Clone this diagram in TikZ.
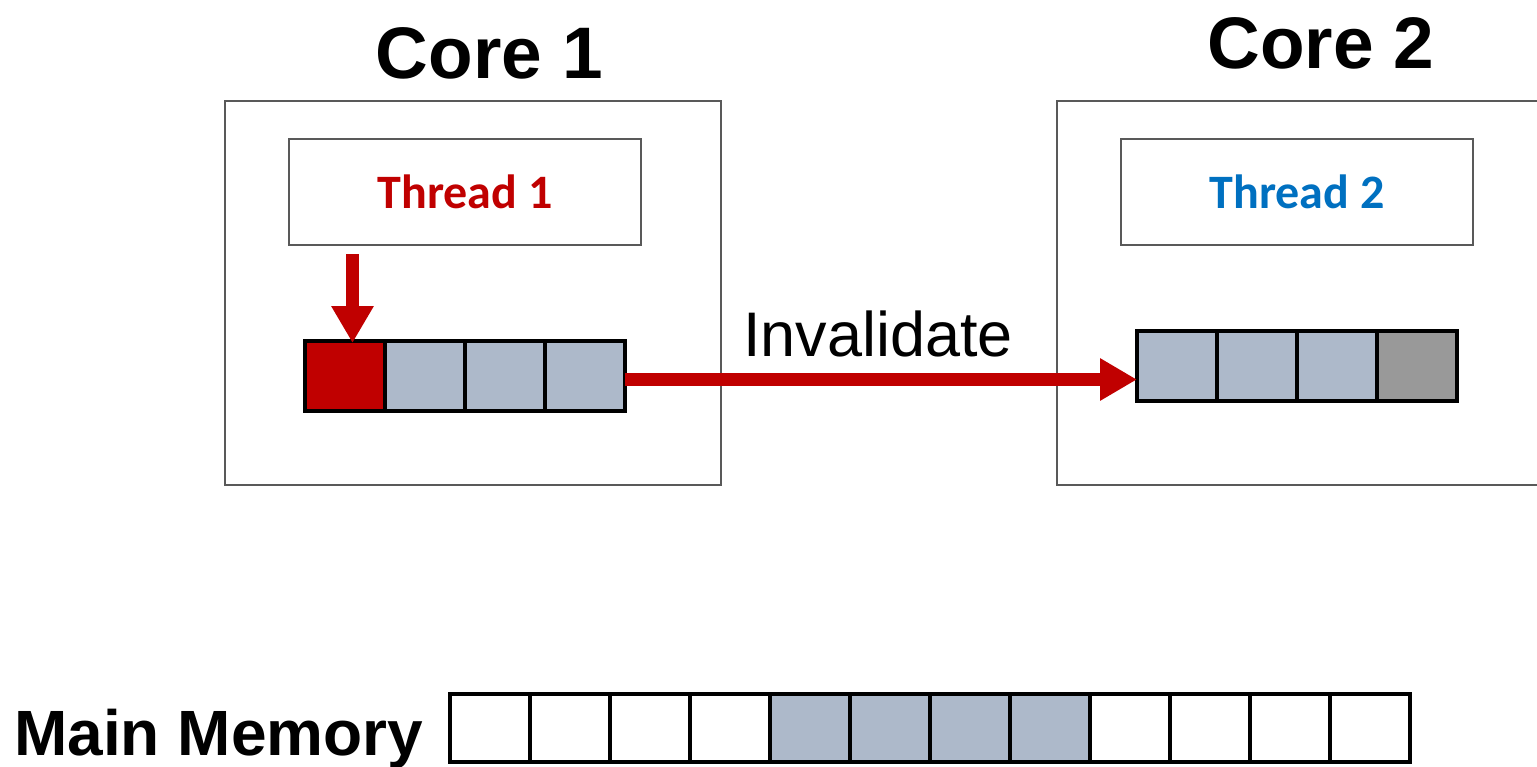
\documentclass[tikz,border=0pt]{standalone}
\usepackage{fontspec}
\setmainfont{Liberation Sans}
\newfontfamily\calib{Carlito}
\usetikzlibrary{arrows.meta}
\definecolor{cred}{HTML}{C00000}
\definecolor{cblue}{HTML}{0070C0}
\definecolor{cachefill}{HTML}{ADB9CA}
\definecolor{cgray}{HTML}{999999}
\definecolor{boxline}{HTML}{595959}
\tikzset{
  corebox/.style={draw=boxline, line width=1.5pt, fill=none},
  threadbox/.style={draw=boxline, line width=1.5pt, minimum width=352pt, minimum height=106pt, inner sep=0pt, outer sep=0pt},
  cell/.style={draw=black, line width=4pt, fill=cachefill, minimum width=80pt, minimum height=70pt, inner sep=0pt, outer sep=0pt},
  memcell/.style={draw=black, line width=4pt, fill=white, minimum width=80pt, minimum height=68.5pt, inner sep=0pt, outer sep=0pt},
  bigarrow/.style={draw=cred, line width=13pt, -{Triangle[width=40pt,length=37pt]}, fill=cred},
  corelabel/.style={font=\bfseries\fontsize{73}{80}\selectfont, anchor=base, inner sep=0pt},
  threadlabel/.style={font=\calib\bfseries\fontsize{48}{54}\selectfont},
}
\begin{document}
\begin{tikzpicture}[x=1pt, y=-1pt]
\useasboundingbox (0,0) rectangle (1537,766);
\clip (0,0) rectangle (1537,766);
\fill[white] (0,0) rectangle (1537,766);

% cores
\node[corebox, inner sep=0pt, outer sep=0pt, minimum width=496pt, minimum height=384pt] (core1) at (473,293) {};
\node[corebox, inner sep=0pt, outer sep=0pt, minimum width=503pt, minimum height=384pt] (core2) at (1308.5,293) {};

\node[corelabel] (core1lbl) at (489.5,78) {Core 1};
\node[corelabel] (core2lbl) at (1321,68) {Core 2};

% threads
\node[threadbox, threadlabel, text=cred] (t1) at (465,192) {Thread 1};
\node[threadbox, threadlabel, text=cblue] (t2) at (1297,192) {Thread 2};

% cache line core 1
\node[cell, fill=cachefill] (c12) at (425,376) {};
\node[cell, fill=cachefill] (c13) at (505,376) {};
\node[cell, fill=cachefill] (c14) at (585,376) {};
\node[cell, fill=cred] (c11) at (345,376) {};

% cache line core 2
\node[cell] (c21) at (1177,366) {};
\node[cell] (c22) at (1257,366) {};
\node[cell] (c23) at (1337,366) {};
\node[cell, fill=cgray] (c24) at (1417,366) {};

% write arrow
\draw[bigarrow] ([xshift=7.5pt,yshift=-9pt]c11.north |- t1.south) -- ([xshift=7.5pt,yshift=-2pt]c11.north);

% invalidate arrow
\draw[bigarrow] ([yshift=-3.5pt]c14.east) -- ([yshift=-3.5pt]c14.east -| c21.west);
\node[font=\fontsize{63}{70}\selectfont, anchor=base, inner sep=0pt] (inv) at (878,356) {Invalidate};

% main memory
\node[font=\bfseries\fontsize{64}{70}\selectfont, anchor=base west, inner sep=0pt] (mmlbl) at (14,755) {Main Memory};
\foreach \i in {0,...,11} {
  \node[memcell] (m\i) at (489.5+80*\i,727.75) {};
}
\foreach \i in {4,...,7} {
  \node[memcell, fill=cachefill] (m\i) at (489.5+80*\i,727.75) {};
}
\foreach \i in {0,...,11} {
  \draw[line width=4pt] (m\i.north west) rectangle (m\i.south east);
}
\end{tikzpicture}
\end{document}
